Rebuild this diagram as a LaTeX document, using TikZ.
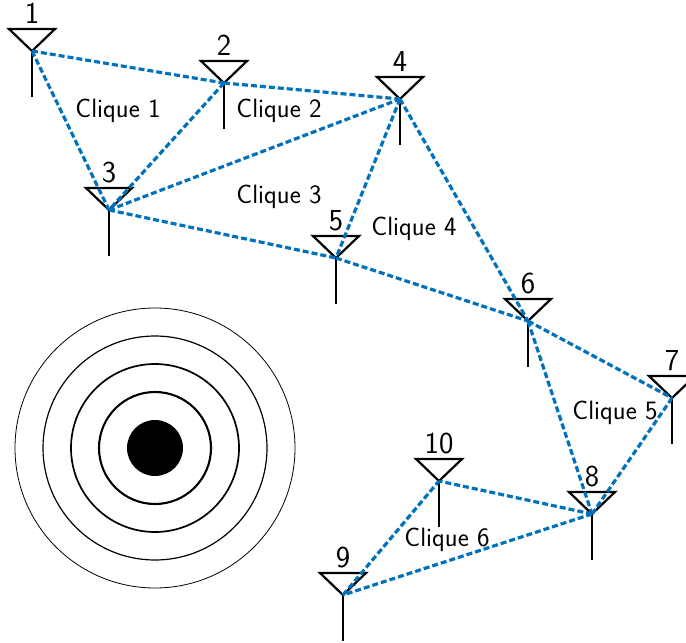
\documentclass[tikz,border=0pt]{standalone}
\usepackage{fontspec}
\setsansfont{Latin Modern Sans}
\definecolor{linkblue}{HTML}{0072BD}
\tikzset{
  antenna/.style={draw=black,line width=2.2pt,line join=miter},
  link/.style={draw=linkblue,line width=3.2pt,dash pattern=on 6pt off 3pt},
  num/.style={font=\sffamily\fontsize{30.5}{30.5}\selectfont,inner sep=0pt,anchor=center,text=black},
  cliquelabel/.style={font=\sffamily\fontsize{26.5}{26.5}\selectfont,inner sep=0pt,anchor=center,text=black},
  ring/.style={draw=black}
}
\begin{document}
\begin{tikzpicture}[x=1pt,y=-1pt]
\clip (0,0) rectangle (686,643);
\foreach \n/\x/\y in {1/32/51,2/224/83,3/109/210,4/400/99,5/336/258,6/528/321,7/672/398,8/592/514,9/343/595,10/439/481}{
  \coordinate (a\n) at (\x,\y);
  \draw[antenna] (\x-23,\y-22) -- (\x+23,\y-22) -- (\x,\y) -- cycle;
  \draw[antenna] (\x,\y) -- (\x,\y+46);
  \node[num] (lab\n) at (\x,\y-37.5) {\n};
}
\foreach \a/\b in {1/2,1/3,2/3,2/4,3/4,3/5,4/5,4/6,5/6,6/7,6/8,7/8,8/9,8/10,9/10}{
  \draw[link] (a\a) -- (a\b);
}
\coordinate (c) at (155,448);
\fill[black] (c) circle (28);
\draw[ring,line width=2.1pt] (c) circle (56);
\draw[ring,line width=1.7pt] (c) circle (84);
\draw[ring,line width=1.2pt] (c) circle (112);
\draw[ring,line width=0.8pt] (c) circle (140);
\node[cliquelabel] (q1) at (118,111) {Clique 1};
\node[cliquelabel] (q2) at (279,111) {Clique 2};
\node[cliquelabel] (q3) at (279,197) {Clique 3};
\node[cliquelabel] (q4) at (414,229) {Clique 4};
\node[cliquelabel] (q5) at (615,413) {Clique 5};
\node[cliquelabel] (q6) at (447,540) {Clique 6};
\end{tikzpicture}
\end{document}
